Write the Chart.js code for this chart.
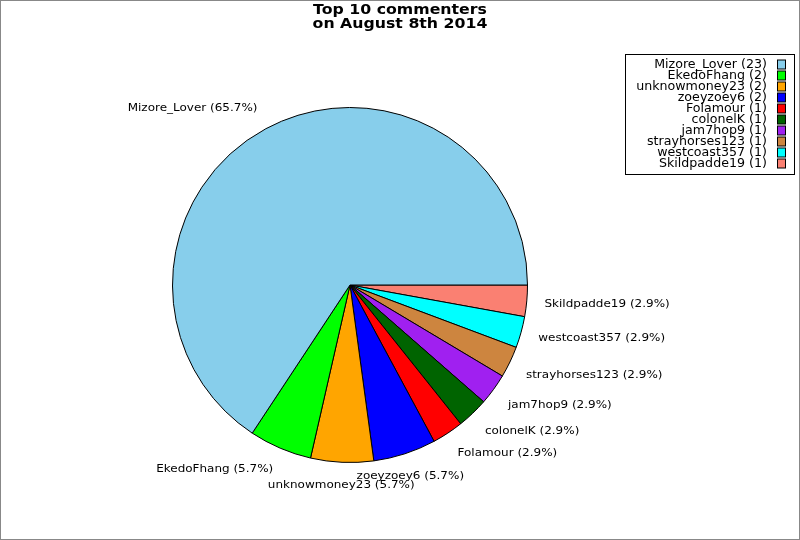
<!DOCTYPE html>
<html>
<head>
<meta charset="utf-8">
<script src="https://cdn.jsdelivr.net/npm/chart.js@4/dist/chart.umd.min.js"></script>
<style>
html,body{margin:0;padding:0;background:#fff;}
canvas{display:block;}
</style>
</head>
<body>
<canvas id="c" width="800" height="540"></canvas>
<script>
const titleLines = ["Top 10 commenters", "on August 8th 2014"];
const commenters = ["Mizore_Lover","EkedoFhang","unknowmoney23","zoeyzoey6","Folamour","colonelK","jam7hop9","strayhorses123","westcoast357","Skildpadde19"];
const comments = [23, 2, 2, 2, 1, 1, 1, 1, 1, 1];
const sliceColors = ["#87CEEB","#00FF00","#FFA500","#0000FF","#FF0000","#006400","#A020F0","#CD853F","#00FFFF","#FA8072"];

const total = comments.reduce((a,b)=>a+b,0);
// Chart.js draws clockwise; reference runs counter-clockwise from 3 o'clock, so reverse.
const revNames = commenters.slice().reverse();
const revVals = comments.slice().reverse();
const revCols = sliceColors.slice().reverse();

const FONT = "'DejaVu Sans', sans-serif";

function drawText(ctx, txt, x, y, align, font, sx) {
  ctx.save();
  ctx.translate(x, y);
  ctx.scale(sx, 1);
  ctx.font = font;
  ctx.textAlign = align;
  ctx.textBaseline = 'alphabetic';
  ctx.fillStyle = '#000';
  ctx.fillText(txt, 0, 0);
  ctx.restore();
}

const decor = {
  id: 'decor',
  beforeDraw(chart) {
    const ctx = chart.ctx;
    ctx.save();
    ctx.fillStyle = '#fff';
    ctx.fillRect(0, 0, chart.width, chart.height);
    ctx.restore();
  },
  afterDraw(chart) {
    const ctx = chart.ctx;
    // title
    drawText(ctx, titleLines[0], 400, 14, 'center', "bold 14px " + FONT, 1.125);
    drawText(ctx, titleLines[1], 400, 28, 'center', "bold 14px " + FONT, 1.125);

    // slice labels
    const meta = chart.getDatasetMeta(0);
    meta.data.forEach((arc, i) => {
      const p = arc.getProps(['x','y','startAngle','endAngle','outerRadius'], true);
      const mid = (p.startAngle + p.endAngle) / 2;
      const c = Math.cos(mid), s = Math.sin(mid);
      const r = p.outerRadius * 1.1;
      const ax = p.x + r * c, ay = p.y + r * s;
      let align;
      if (Math.abs(s) > 0.924) align = 'center';
      else align = c > 0 ? 'left' : 'right';
      let dy;
      if (s < -0.38) dy = -2;
      else if (s > 0.38) dy = 7.9;
      else dy = 4;
      const pct = (revVals[i] / total * 100).toFixed(1);
      drawText(ctx, revNames[i] + " (" + pct + "%)", ax, ay + dy, align, "11px " + FONT, 1.09);
    });

    // legend
    const bx = 625.5, by = 54.5, bw = 169, bh = 120;
    ctx.save();
    ctx.fillStyle = '#fff';
    ctx.fillRect(bx, by, bw, bh);
    ctx.strokeStyle = '#000';
    ctx.lineWidth = 1;
    ctx.strokeRect(bx, by, bw, bh);
    ctx.restore();
    commenters.forEach((n, i) => {
      const cy = 64 + i * 11;
      drawText(ctx, n + " (" + comments[i] + ")", 767, cy + 4, 'right', "11.5px " + FONT, 1.1);
      ctx.save();
      ctx.fillStyle = sliceColors[i];
      ctx.fillRect(777.5, cy - 4, 8, 9);
      ctx.strokeStyle = '#000';
      ctx.lineWidth = 1;
      ctx.strokeRect(777.5, cy - 4, 8, 9);
      ctx.restore();
    });

    // outer frame
    ctx.save();
    ctx.strokeStyle = '#888';
    ctx.lineWidth = 1;
    ctx.strokeRect(0.5, 0.5, chart.width - 1, chart.height - 1);
    ctx.restore();
  }
};

new Chart(document.getElementById('c'), {
  type: 'pie',
  data: {
    labels: revNames,
    datasets: [{
      data: revVals,
      backgroundColor: revCols,
      borderColor: '#000',
      borderWidth: 1
    }]
  },
  options: {
    responsive: false,
    animation: false,
    devicePixelRatio: 1,
    rotation: 90,
    layout: { padding: { left: 172, right: 272, top: 107, bottom: 77 } },
    plugins: {
      legend: { display: false },
      title: { display: false },
      tooltip: { enabled: false }
    }
  },
  plugins: [decor]
});
</script>
</body>
</html>
